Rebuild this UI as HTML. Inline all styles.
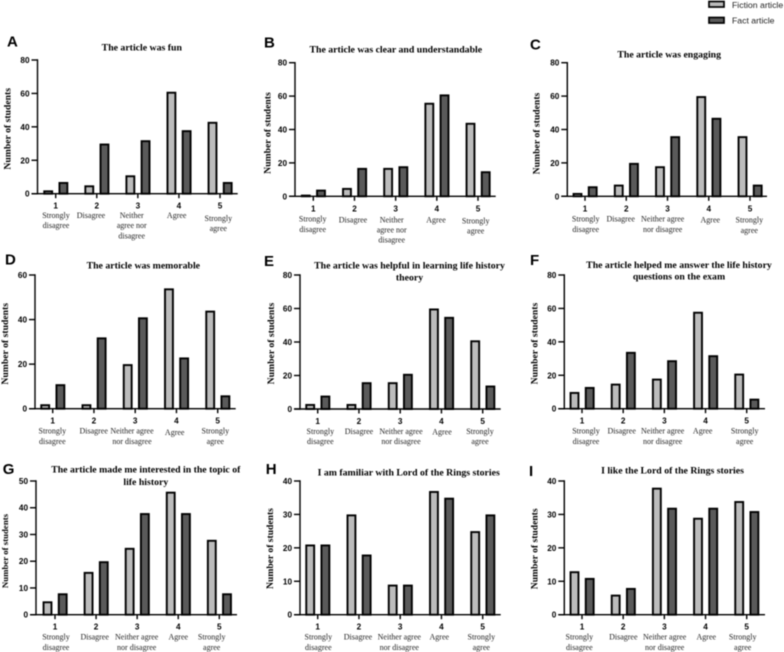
<!DOCTYPE html>
<html lang="en">
<head>
<meta charset="utf-8">
<title>Student responses to fiction and fact articles</title>
<style>
html,body{margin:0;padding:0;background:#fff;width:784px;height:652px;overflow:hidden}
svg{display:block;filter:blur(0.4px)}
.title{font:bold 9.8px "Liberation Serif",serif;fill:#000;text-anchor:middle}
.ytitle{font:bold 9.7px "Liberation Serif",serif;fill:#000;text-anchor:middle}
.tick{font:bold 8.2px "Liberation Sans",sans-serif;fill:#000}
.sub{font:8px "Liberation Serif",serif;fill:#222;text-anchor:middle}
.letter{font:bold 15px "Liberation Sans",sans-serif;fill:#000}
.legend{font:8.7px "Liberation Sans",sans-serif;fill:#222}
</style>
</head>
<body>
<svg id="chart" xmlns="http://www.w3.org/2000/svg" width="784" height="652" viewBox="0 0 784 652">
  <g>
    <g>
      <rect x="709" y="1.5" width="15" height="5.5" fill="#bcbcbc" stroke="#000" stroke-width="1.7"/>
      <text class="legend" x="732" y="8">Fiction article</text>
    </g>
    <g>
      <rect x="709" y="17.5" width="15" height="5.5" fill="#5a5a5a" stroke="#000" stroke-width="1.7"/>
      <text class="legend" x="732" y="23.5">Fact article</text>
    </g>
  </g>
</svg>
<script>
const categories = ['1', '2', '3', '4', '5'];

const fictionA = [2, 5, 11, 61, 43];
const factA = [7, 30, 32, 38, 7];
const fictionB = [1, 5, 17, 56, 44];
const factB = [4, 17, 18, 61, 15];
const fictionC = [2, 7, 18, 60, 36];
const factC = [6, 20, 36, 47, 7];
const fictionD = [2, 2, 20, 54, 44];
const factD = [11, 32, 41, 23, 6];
const fictionE = [3, 3, 16, 60, 41];
const factE = [8, 16, 21, 55, 14];
const fictionF = [10, 15, 18, 58, 21];
const factF = [13, 34, 29, 32, 6];
const fictionG = [5, 16, 25, 46, 28];
const factG = [8, 20, 38, 38, 8];
const fictionH = [21, 30, 9, 37, 25];
const factH = [21, 18, 9, 35, 30];
const fictionI = [13, 6, 38, 29, 34];
const factI = [11, 8, 32, 32, 31];

const ticks80 = [0, 20, 40, 60, 80];
const ticks60 = [0, 20, 40, 60];
const ticks50 = [0, 10, 20, 30, 40, 50];
const ticks40 = [0, 10, 20, 30, 40];

const wrap3 = [['Strongly', 'disagree'], ['Disagree'], ['Neither', 'agree nor', 'disagree'], ['Agree'], ['Strongly', 'agree']];
const wrap2 = [['Strongly', 'disagree'], ['Disagree'], ['Neither agree', 'nor disagree'], ['Agree'], ['Strongly', 'agree']];

const panels = [
  {id:'a', letter:'A', lx:7, ly:46.7, title:['The article was fun'], tx:141.8, tb:[50.3], fiction:fictionA, fact:factA, ticks:ticks80, labels:wrap3,
   ax:37.5, y0:193.7, top:60, c1:55.7, c5:220, right:237.7, ytx:7.3, yty:125.8, ytfs:9.7,
   sx:[56,91,131.7,176.7,218.3], sy:[218,218,218,218,221]},
  {id:'b', letter:'B', lx:264, ly:47.7, title:['The article was clear and understandable'], tx:395.8, tb:[52.3], fiction:fictionB, fact:factB, ticks:ticks80, labels:wrap3,
   ax:295, y0:196.3, top:62.7, c1:313.3, c5:478, right:495.7, ytx:267.3, yty:130, ytfs:9.7,
   sx:[312.7,353,391.7,436,475.7], sy:[221.7,222.3,222.3,222.3,223.3]},
  {id:'c', letter:'C', lx:530, ly:49.3, title:['The article was engaging'], tx:669.2, tb:[57.5], fiction:fictionC, fact:factC, ticks:ticks80, labels:wrap2,
   ax:567.3, y0:196.3, top:62.7, c1:585, c5:750, right:767, ytx:536.7, yty:130.5, ytfs:9.7,
   sx:[585.7,620.7,662.7,710.3,749.3], sy:[221.7,221.7,221.7,222.7,222.7]},
  {id:'d', letter:'D', lx:5, ly:264.3, title:['The article was memorable'], tx:143.3, tb:[268.7], fiction:fictionD, fact:factD, ticks:ticks60, labels:wrap2,
   ax:35, y0:408.7, top:275, c1:52.7, c5:217.7, right:235.7, ytx:5, yty:340.8, ytfs:9.7,
   sx:[52.3,93.7,132,174.7,215.3], sy:[433.7,433.7,433.7,435,433.7]},
  {id:'e', letter:'E', lx:264, ly:266, title:['The article was helpful in learning life history','theory'], tx:409.5, tb:[268.3,280.7], fiction:fictionE, fact:factE, ticks:ticks80, labels:wrap2,
   ax:300, y0:409, top:275, c1:317.7, c5:482.7, right:500.7, ytx:271, yty:340.5, ytfs:9.7,
   sx:[320.3,359,401,442,480], sy:[434,434,434,434.7,434]},
  {id:'f', letter:'F', lx:530, ly:265, title:['The article helped me answer the life history','questions on the exam'], tx:679, tb:[268,279.7], fiction:fictionF, fact:factF, ticks:ticks80, labels:wrap2,
   ax:564.3, y0:408.7, top:275, c1:582, c5:746.7, right:765, ytx:534.3, yty:340.5, ytfs:9.7,
   sx:[586,621.7,662.7,702.7,744.7], sy:[433.7,433.7,433.7,433.7,433.7]},
  {id:'g', letter:'G', lx:2.7, ly:474, title:['The article made me interested in the topic of','life history'], tx:145.8, tb:[472.3,485], fiction:fictionG, fact:factG, ticks:ticks50, labels:wrap2,
   ax:36, y0:614.7, top:481, c1:55, c5:219.3, right:237, ytx:5, yty:548, ytfs:8.8,
   sx:[56,94.7,136.7,178.3,211.7], sy:[639.7,639.7,639.7,639.7,639.7]},
  {id:'h', letter:'H', lx:265.7, ly:474, title:['I am familiar with Lord of the Rings stories'], tx:408.7, tb:[475.7], fiction:fictionH, fact:factH, ticks:ticks40, labels:wrap2,
   ax:300, y0:614.7, top:481, c1:317.7, c5:482.7, right:500.7, ytx:270, yty:545.5, ytfs:9.6,
   sx:[318.3,358,399.3,439.3,481.3], sy:[639.7,639.7,639.7,639.7,639.7]},
  {id:'i', letter:'I', lx:529, ly:476, title:['I like the Lord of the Rings stories'], tx:672.5, tb:[473.3], fiction:fictionI, fact:factI, ticks:ticks40, labels:wrap2,
   ax:564.3, y0:614.7, top:481, c1:582, c5:746.7, right:765, ytx:534.3, yty:545.8, ytfs:9.6,
   sx:[579.3,623.3,664.7,706.3,742.7], sy:[639.7,639.7,639.7,639.7,639.7]}
];

const NS = 'http://www.w3.org/2000/svg';
const root = document.getElementById('chart');

function make(parent, tag, attrs, text) {
  const el = document.createElementNS(NS, tag);
  for (const k in attrs) el.setAttribute(k, attrs[k]);
  if (text !== undefined) el.textContent = text;
  parent.appendChild(el);
  return el;
}

function drawPanel(p) {
  const maxV = p.ticks[p.ticks.length - 1];
  const yScale = function (v) { return p.y0 - (v / maxV) * (p.y0 - p.top); };
  const xScale = function (i) { return p.c1 + i * (p.c5 - p.c1) / (categories.length - 1); };

  const g = make(root, 'g', {});
  
  

  const letter = make(g, 'text', {class:'letter', x:p.lx, y:p.ly}, p.letter);
  
  

  p.title.forEach(function (line, i) {
    const t = make(g, 'text', {class:'title', x:p.tx, y:p.tb[i]}, line);
    
    
  });

  const yt = make(g, 'text', {class:'ytitle', x:p.ytx, y:p.yty, style:'font-size:' + p.ytfs + 'px', transform:'rotate(-90 ' + (p.ytx + 3) + ' ' + p.yty + ')'}, 'Number of students');
  
  

  categories.forEach(function (cat, i) {
    const c = xScale(i);
    const series = [[p.fiction[i], c - 12.4, '#bcbcbc', 'fiction'], [p.fact[i], c + 2.8, '#5a5a5a', 'fact']];
    series.forEach(function (s) {
      const yTop = yScale(s[0]);
      const bar = make(g, 'rect', {x:s[1] + 0.95, y:yTop + 0.95, width:7.9, height:Math.max(p.y0 - yTop - 0.95, 0.2), fill:s[2], stroke:'#000', 'stroke-width':1.9});
      
      
    });
  });

  const yAxis = make(g, 'line', {x1:p.ax, x2:p.ax, y1:p.top - 0.7, y2:p.y0 + 0.7, stroke:'#000', 'stroke-width':1.4});
  
  
  const xAxis = make(g, 'line', {x1:p.ax - 6, x2:p.right, y1:p.y0, y2:p.y0, stroke:'#000', 'stroke-width':1.4});
  
  

  p.ticks.forEach(function (v) {
    const y = yScale(v);
    make(g, 'line', {x1:p.ax - 6, x2:p.ax, y1:y, y2:y, stroke:'#000', 'stroke-width':1.4});
    const lab = make(g, 'text', {class:'tick', x:p.ax - 8, y:y + 3, 'text-anchor':'end'}, String(v));
    
    
  });

  categories.forEach(function (cat, i) {
    const c = xScale(i);
    make(g, 'line', {x1:c, x2:c, y1:p.y0, y2:p.y0 + 4.5, stroke:'#000', 'stroke-width':1.4});
    const lab = make(g, 'text', {class:'tick', x:c, y:p.y0 + 15, 'text-anchor':'middle'}, cat);
    
    
    p.labels[i].forEach(function (line, j) {
      const sub = make(g, 'text', {class:'sub', x:p.sx[i], y:p.sy[i] + j * 10.2}, line);
      
      
    });
  });
}

panels.forEach(drawPanel);
</script>
</body>
</html>
